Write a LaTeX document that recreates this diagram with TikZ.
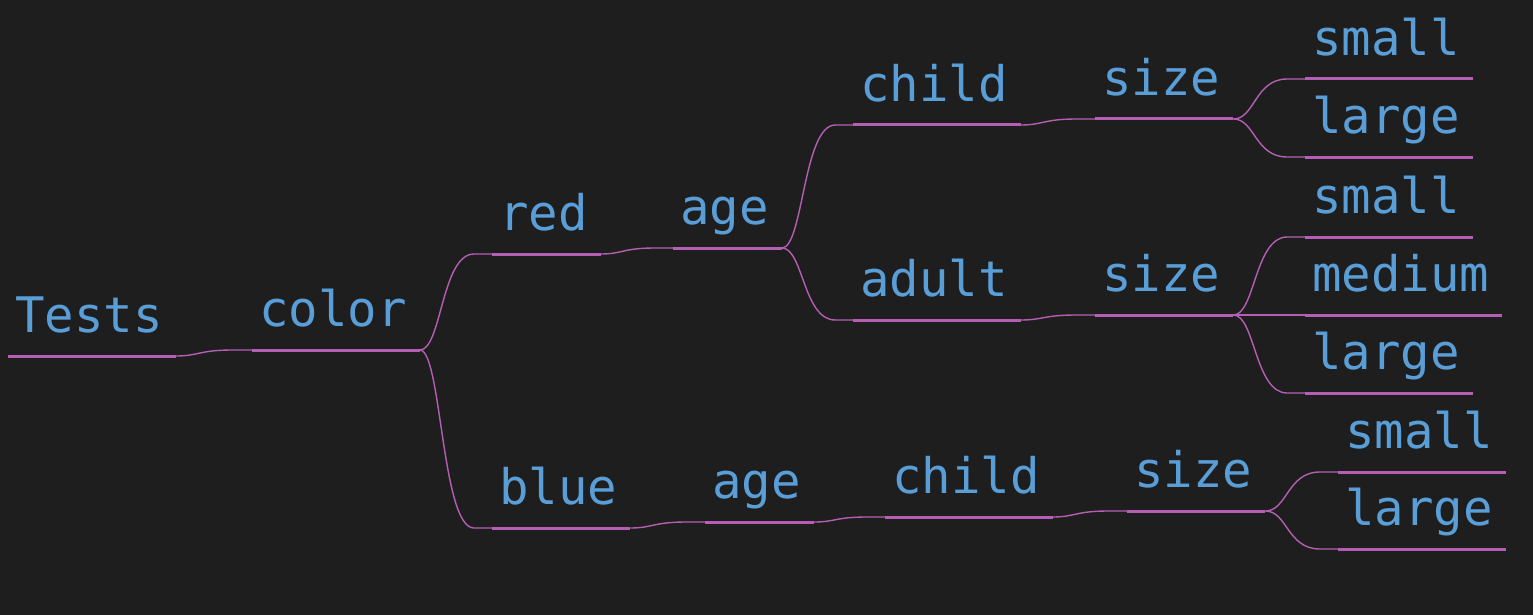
\documentclass[tikz,border=0pt]{standalone}
\usepackage{fontspec}
\newfontfamily\treefont{DejaVu Sans Mono}
\usetikzlibrary{calc}
\definecolor{bg}{HTML}{1E1E1E}
\definecolor{wordblue}{HTML}{5A9ED8}
\definecolor{branchpink}{HTML}{B45FB4}

\begin{document}
\begin{tikzpicture}[x=1pt, y=-1pt,
		word/.style={anchor=south west, inner sep=0pt, text=wordblue, font=\treefont\fontsize{49}{49}\selectfont, text depth=23pt, execute at begin node={\hspace*{7pt}}, execute at end node={\hspace*{13pt}}},
		uline/.style={draw=branchpink, line width=3pt},
		link/.style={draw=branchpink, line width=1.4pt}]
		\fill[bg] (0,0) rectangle (1533,615);

		\node [word] (tests)  at (8,356)    {Tests};
		\node [word] (color)  at (252,350)  {color};
		\node [word] (red)    at (492,254)  {red};
		\node [word] (ageR)   at (673,248)  {age};
		\node [word] (childR) at (853,125)  {child};
		\node [word] (sizeC)  at (1095,119) {size};
		\node [word] (smallA) at (1305,79)  {small};
		\node [word] (largeA) at (1305,157) {large};
		\node [word] (adult)  at (853,320)  {adult};
		\node [word] (sizeA)  at (1095,315) {size};
		\node [word] (smallB) at (1305,237) {small};
		\node [word] (medium) at (1305,315) {medium};
		\node [word] (largeB) at (1305,393) {large};
		\node [word] (blue)   at (492,528)  {blue};
		\node [word] (ageB)   at (705,522)  {age};
		\node [word] (childB) at (885,517)  {child};
		\node [word] (sizeB)  at (1127,511) {size};
		\node [word] (smallC) at (1338,472) {small};
		\node [word] (largeC) at (1338,549) {large};

		% branches
		\foreach \a/\b in {tests/color, color/red, color/blue, red/ageR, ageR/childR, ageR/adult,
				childR/sizeC, sizeC/smallA, sizeC/largeA, adult/sizeA, sizeA/smallB, sizeA/medium,
				sizeA/largeB, blue/ageB, ageB/childB, childB/sizeB, sizeB/smallC, sizeB/largeC}
			\path[link] let \p1=(\a.south east), \p2=(\b.south west) in
				(\p1) .. controls ({\x1+0.3*(\x2-\x1)},\y1) and ({\x1+0.3*(\x2-\x1)},\y2)
				.. ({\x1+0.75*(\x2-\x1)},\y2) -- (\p2);

		% underlines
		\foreach \n in {tests, color, red, ageR, childR, sizeC, smallA, largeA, adult, sizeA,
				smallB, medium, largeB, blue, ageB, childB, sizeB, smallC, largeC}
			\draw[uline] (\n.south west) -- (\n.south east);
	\end{tikzpicture}
\end{document}
